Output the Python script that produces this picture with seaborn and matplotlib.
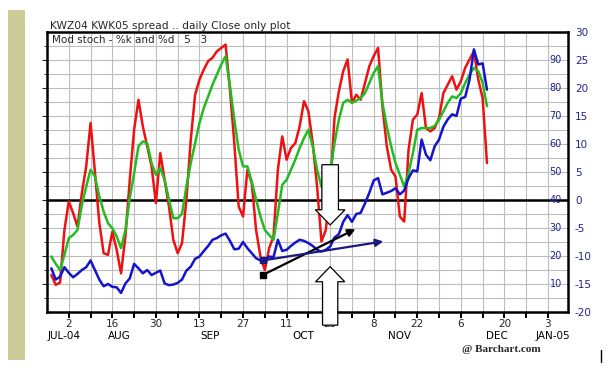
import numpy as np
import pandas as pd
import matplotlib
matplotlib.use("Agg")
import matplotlib.pyplot as plt
import matplotlib.transforms as mtransforms
from matplotlib.patches import Polygon, Rectangle
from matplotlib.lines import Line2D
import seaborn as sns

# ---------------- data ----------------
start_date = "2004-07-27"
pct_k = [13.2, 9.7, 10.5, 29.3, 39.5, 35.3, 30.5, 42.5, 52.0, 67.5,
         50.0, 32.0, 21.0, 20.4, 28.7, 22.2, 13.8, 27.0, 47.2, 65.1,
         75.8, 66.3, 59.2, 52.0, 38.9, 56.8, 47.2, 37.7, 25.8, 21.0,
         24.6, 40.1, 61.5, 77.6, 83.0, 86.6, 89.6, 90.8, 93.1, 94.3,
         95.5, 79.4, 60.3, 37.7, 34.1, 50.8, 46.0, 29.3, 19.8, 15.0,
         22.8, 27.0, 50.8, 62.7, 54.4, 58.6, 60.3, 66.3, 75.3, 71.7,
         60.3, 44.8, 25.2, 29.3, 43.6, 69.3, 78.8, 86.0, 90.2, 74.7,
         77.6, 75.8, 81.8, 87.8, 91.4, 94.3, 73.5, 59.2, 50.8, 48.4,
         34.1, 32.3, 58.0, 68.7, 70.5, 78.2, 65.7, 64.5, 65.7, 69.3,
         78.2, 81.2, 84.2, 79.4, 82.4, 87.2, 90.2, 93.1, 83.0, 76.4,
         53.2]
pct_d = [19.8, 17.2, 15.0, 20.4, 26.4, 27.5, 29.3, 38.3, 44.8, 50.8,
         48.4, 41.3, 35.9, 31.7, 29.9, 27.0, 22.8, 29.3, 40.7, 49.6,
         59.2, 60.9, 60.3, 53.2, 49.0, 51.4, 47.2, 40.1, 33.5, 33.5,
         35.1, 44.8, 53.2, 60.3, 67.5, 72.9, 77.0, 81.2, 84.8, 88.4,
         91.4, 80.6, 68.7, 58.0, 52.0, 52.0, 46.6, 40.1, 34.1, 29.3,
         27.5, 25.8, 35.3, 45.4, 47.2, 50.8, 54.4, 58.6, 62.1, 65.1,
         59.2, 50.8, 44.8, 42.5, 49.6, 60.3, 68.7, 74.7, 75.8, 74.7,
         75.5, 76.4, 78.2, 81.8, 85.4, 87.8, 74.7, 66.3, 59.2, 53.2,
         49.0, 44.8, 49.6, 56.8, 65.1, 65.7, 65.7, 65.7, 66.5, 68.7,
         71.7, 74.7, 77.0, 76.4, 78.2, 81.8, 84.8, 87.2, 86.0, 81.8,
         73.5]
spread = [-12.2, -14.2, -13.7, -12.0, -13.0, -13.8, -13.2, -12.5, -12.0, -10.8,
          -12.5, -14.2, -15.4, -15.0, -15.5, -15.6, -16.6, -14.9, -14.0, -11.4,
          -12.2, -13.1, -12.5, -13.4, -13.0, -12.6, -14.9, -15.2, -15.1, -14.8,
          -14.2, -12.6, -11.9, -10.5, -10.1, -9.1, -8.2, -7.1, -6.8, -6.3,
          -6.0, -7.3, -8.8, -8.7, -7.5, -8.6, -9.5, -10.4, -10.8, -10.8,
          -10.1, -10.2, -7.1, -9.1, -8.9, -8.2, -7.6, -7.1, -7.3, -7.7,
          -8.2, -8.9, -9.2, -8.9, -8.3, -6.7, -6.1, -3.9, -2.7, -3.9,
          -2.5, -2.3, -0.6, 1.3, 3.5, 3.9, 1.0, 1.3, 1.6, 2.1,
          1.0, 1.7, 3.9, 5.3, 5.1, 10.8, 8.1, 7.1, 9.6, 10.8,
          13.1, 14.4, 15.3, 15.0, 18.1, 18.4, 21.5, 26.9, 24.2, 24.4,
          19.7]

day_labels = ["2", "16", "30", "13", "27", "11", "25", "8", "22", "6", "20", "3"]
month_labels = ["JUL-04", "AUG", "SEP", "OCT", "NOV", "DEC", "JAN-05"]
month_label_pos = [3.9, 16.7, 37.4, 58.9, 81.0, 103.4, 116.2]
stoch_labels = [10, 20, 30, 40, 50, 60, 70, 80, 90]
spread_labels = [30, 25, 20, 15, 10, 5, 0, -5, -10, -15, -20]

title = "KWZ04 KWK05 spread .. daily Close only plot"
subtitle = "Mod stoch - %k and %d   5   3"

# annotation geometry (trading-day index, stochastic units)
down_arrow = dict(x=65.0, tail=52.6, head=36.5, tip=31.1, shaft=1.9, headw=3.4)
up_arrow = dict(x=65.0, tail=-4.7, head=10.8, tip=16.2, shaft=1.75, headw=3.35)
black_arrow = ((49.5, 13.2), (70.8, 29.6))
navy_arrow = ((49.5, 18.4), (77.2, 25.2))

# ---------------- layout ----------------
RED = "#EE1111"
GREEN = "#22BB22"
BLUE = "#1414CC"
NAVY = "#22228F"
GRID = "#BDBDBD"

sns.set_style("white")
plt.rcParams["font.family"] = ["DejaVu Sans"]

calendar = pd.bdate_range("2004-07-26", "2005-01-07")
dates = pd.bdate_range(start_date, periods=len(pct_k))
xpos = calendar.get_indexer(dates)
df = pd.DataFrame({"x": xpos, "k": pct_k, "d": pct_d, "s": spread})

W, H = 616, 375
fig = plt.figure(figsize=(W / 100, H / 100), dpi=100)
fig.patch.set_facecolor("white")
ax = fig.add_axes([47 / W, 63 / H, 521 / W, 280 / H])
ax.set_xlim(0, 119.6)
ax.set_ylim(0, 100)

# grid
ax.set_yticks(stoch_labels)
ax.set_yticks(np.arange(5, 100, 10), minor=True)
mondays = [i for i, d in enumerate(calendar) if d.weekday() == 0 and i >= 5]
ax.set_xticks(mondays)
ax.set_xticklabels([day_labels[j // 2] if j % 2 == 0 else "" for j in range(len(mondays))])
ax.grid(True, which="both", axis="y", color=GRID, lw=0.8)
ax.grid(True, which="major", axis="x", color=GRID, lw=0.8)
ax.set_axisbelow(True)
ax.axhline(40, color="black", lw=1.8, zorder=2.2)

ax.tick_params(axis="x", which="major", direction="out", length=4, width=1.4,
               color="black", labelsize=7.5, pad=1.0, bottom=True)
ax.tick_params(axis="y", which="both", left=False, right=False,
               labelleft=False, labelright=False)
for sp in ax.spines.values():
    sp.set_linewidth(1.8)
    sp.set_color("black")

sns.lineplot(data=df, x="x", y="k", ax=ax, color=RED, lw=1.8, zorder=3)
sns.lineplot(data=df, x="x", y="d", ax=ax, color=GREEN, lw=1.8, zorder=4)
ax.set_xlabel("")
ax.set_ylabel("")

# inner stochastic labels
blend = mtransforms.blended_transform_factory(ax.transAxes, ax.transData)
for v in stoch_labels:
    ax.text(0.988, v, str(v), transform=blend, ha="right", va="center",
            fontsize=7, color=NAVY, zorder=6)

# month labels
blendx = mtransforms.blended_transform_factory(ax.transData, ax.transAxes)
for lab, p in zip(month_labels, month_label_pos):
    ax.text(p, -0.086, lab, transform=blendx, ha="center", va="center",
            fontsize=7.5, color="black", clip_on=False)

# spread axis
ax2 = ax.twinx()
ax2.set_ylim(-20, 30)
sns.lineplot(data=df, x="x", y="s", ax=ax2, color=BLUE, lw=1.8)
ax2.set_ylabel("")
ax2.set_yticks(spread_labels)
ax2.set_yticklabels([str(v) for v in spread_labels])
ax2.tick_params(axis="y", length=0, pad=5, labelsize=7.5, labelcolor=NAVY)
for sp in ax2.spines.values():
    sp.set_visible(False)
ax2.grid(False)

# annotations
def block_arrow(a):
    x = a["x"]
    return [(x - a["shaft"], a["tail"]), (x + a["shaft"], a["tail"]),
            (x + a["shaft"], a["head"]), (x + a["headw"], a["head"]),
            (x, a["tip"]), (x - a["headw"], a["head"]),
            (x - a["shaft"], a["head"])]

for a in (down_arrow, up_arrow):
    poly = Polygon(block_arrow(a), closed=True, facecolor="white",
                   edgecolor="black", lw=0.9, transform=ax.transData,
                   zorder=10, clip_on=False)
    ax2.add_patch(poly)

for (s, e), col in ((black_arrow, "black"), (navy_arrow, "#1A1A80")):
    ax2.annotate("", xy=e, xytext=s, xycoords=ax.transData,
                 textcoords=ax.transData,
                 arrowprops=dict(arrowstyle="-|>", color=col, lw=1.6,
                                 mutation_scale=11, shrinkA=0, shrinkB=0),
                 zorder=11)
    ax2.plot([s[0]], [s[1]], marker="s", ms=4.5, color=col,
             transform=ax.transData, zorder=12)

# texts
fig.text(50 / W, 1 - 26 / H, title, fontsize=7.7, ha="left", va="center")
fig.text(52 / W, 1 - 40 / H, subtitle, fontsize=7.5, ha="left", va="center")
fig.text(501 / W, 1 - 349 / H, "@ Barchart.com", fontsize=8, ha="center",
         va="center", family=["Liberation Serif"], weight="bold")
fig.add_artist(Line2D([601 / W, 601 / W], [1 - 362 / H, 1 - 350 / H],
                      color="black", lw=1))
fig.add_artist(Rectangle((8 / W, 1 - 360 / H), 17 / W, 350 / H,
                         facecolor="#CCCC99", edgecolor="none"))

fig.savefig("out.png", dpi=100, facecolor="white")
